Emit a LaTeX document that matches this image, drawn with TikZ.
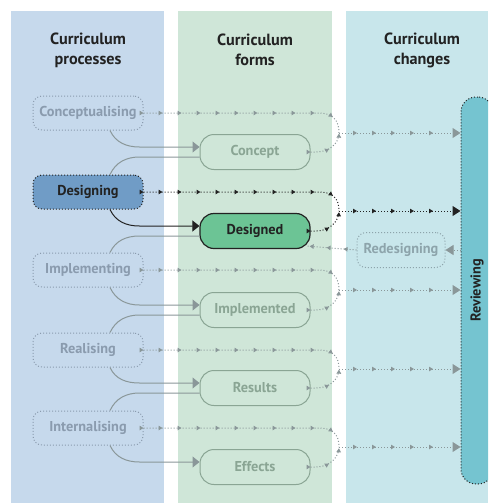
\documentclass[tikz,border=0pt]{standalone}
\usepackage{fontspec}
\setmainfont{PT Sans}
\usetikzlibrary{arrows.meta,decorations.markings,calc}
\definecolor{bgA}{HTML}{C6D9EC}
\definecolor{bgB}{HTML}{CFE6D8}
\definecolor{bgC}{HTML}{C8E6EB}
\definecolor{fillA}{HTML}{709CC6}
\definecolor{fillB}{HTML}{6CC495}
\definecolor{fillC}{HTML}{75C4D0}
\definecolor{inA}{HTML}{8A9BAE}
\definecolor{inB}{HTML}{8AA594}
\definecolor{inC}{HTML}{8DA4AB}
\definecolor{lineg}{HTML}{8A9799}
\definecolor{darkc}{HTML}{222222}
\tikzset{
  smalltip/.tip={Triangle[length=4pt,width=4.5pt]},
  bigtip/.tip={Triangle[length=8pt,width=10pt]},
  conntip/.tip={Triangle[length=7pt,width=11pt]},
  txt/.style={font=\bfseries\fontsize{14.3}{16}\selectfont},
  head/.style={font=\bfseries\fontsize{16.2}{20}\selectfont, text=darkc, align=center},
  proc/.style={txt, rounded corners=9pt, minimum width=110pt, minimum height=34pt, inner sep=0pt,
    draw=inA, dash pattern=on 1pt off 2pt, line width=1pt, text=inA, fill=bgA},
  form/.style={txt, rounded corners=14pt, minimum width=110pt, minimum height=35pt, inner sep=0pt,
    draw=inB, line width=1pt, text=inB, fill=bgB},
  redes/.style={txt, rounded corners=9pt, minimum width=88pt, minimum height=35pt, inner sep=0pt,
    draw=inC, dash pattern=on 1pt off 2pt, line width=1pt, text=inC, fill=bgC},
  revbox/.style={rounded corners=15pt, minimum width=32pt, minimum height=387pt, inner sep=0pt,
    draw=darkc, dash pattern=on 1pt off 2pt, line width=1pt, fill=fillC},
  dl/.style 2 args={draw=lineg, line width=1pt, dash pattern=on 1pt off 2pt,
    decoration={markings, mark=between positions #1 and #2 step 19pt with {\arrow{smalltip}}},
    postaction={decorate}},
  dlr/.style={draw=lineg, line width=1pt, dash pattern=on 1pt off 2pt,
    decoration={markings, mark=between positions 18pt and -12pt step 19pt with {\arrow{smalltip}}},
    postaction={decorate}, -bigtip},
  conn/.style={draw=lineg, line width=1pt},
}
\begin{document}
\begin{tikzpicture}[x=1pt,y=1pt]
\useasboundingbox (0,0) rectangle (488,-504);
\clip (0,0) rectangle (488,-504);
% columns
\fill[bgA] (11,-11) rectangle (164,-503);
\fill[bgB] (178,-11) rectangle (332,-503);
\fill[bgC] (346,-11) rectangle (488,-503);
% headers
\node[head] (h1) at (88,-50) {Curriculum\\processes};
\node[head] (h2) at (255,-50) {Curriculum\\forms};
\node[head] (h3) at (422,-50) {Curriculum\\changes};
% process nodes
\node[proc] (p1) at (88,-113) {Conceptualising};
\node[proc, fill=fillA, draw=darkc, text=darkc] (p2) at (88,-192) {Designing};
\node[proc] (p3) at (88,-270) {Implementing};
\node[proc] (p4) at (88,-350) {Realising};
\node[proc] (p5) at (88,-428) {Internalising};
% form nodes
\node[form] (f1) at (255,-152) {Concept};
\node[form, fill=fillB, draw=darkc, text=darkc, line width=1.2pt] (f2) at (255,-231) {Designed};
\node[form] (f3) at (255,-310) {Implemented};
\node[form] (f4) at (255,-388) {Results};
\node[form] (f5) at (255,-467) {Effects};
% reviewing
\node[revbox, label={[rotate=90, txt, text=darkc]center:Reviewing}] (rev) at (477,-290.5) {};
\node[redes] (red) at (401,-250) {Redesigning};
% merge points
\coordinate (m1) at (339,-133);
\coordinate (m2) at (339,-211);
\coordinate (m3) at (339,-290);
\coordinate (m4) at (339,-369);
\coordinate (m5) at (339,-447);
% row connectors
\foreach \p/\f/\m/\c in {p1/f1/m1/lineg, p2/f2/m2/darkc, p3/f3/m3/lineg, p4/f4/m4/lineg, p5/f5/m5/lineg}{
  \draw[dl={0}{1}, draw=\c] (\p.east) -- ++(175,0) .. controls +(14,0) and +(0,13) .. (\m);
  \draw[dl={0}{1}, draw=\c] (\f.east) -- ++(6,0) .. controls +(12,0) and +(0,-11) .. (\m);
  \draw[dlr, draw=\c] (\m) -- (\m -| rev.west);
  \draw[conn, draw=\c, -conntip] ([xshift=22pt]\p.south) to[out=-65,in=180] ([xshift=-60pt,yshift=5pt]\f.west) -- ([yshift=5pt]\f.west);
}
\foreach \p/\f in {p2/f1, p3/f2, p4/f3, p5/f4}{
  \draw[conn] ([xshift=22pt]\p.north) to[out=65,in=180] ([xshift=-60pt,yshift=-5pt]\f.west) -- ([yshift=-5pt]\f.west);
}
% redesigning
\coordinate (dc) at ([xshift=-3pt,yshift=3pt]f2.south east);
\draw[draw=lineg, line width=1pt, dash pattern=on 1pt off 2pt, -bigtip] (red.east -| rev.west) -- (red.east);
\draw[draw=lineg, line width=1pt, dash pattern=on 1pt off 2pt,
  decoration={markings, mark=between positions 13pt and 1 step 17pt with {\arrow{smalltip}}},
  postaction={decorate}] (red.west) -- (dc);
\end{tikzpicture}
\end{document}
